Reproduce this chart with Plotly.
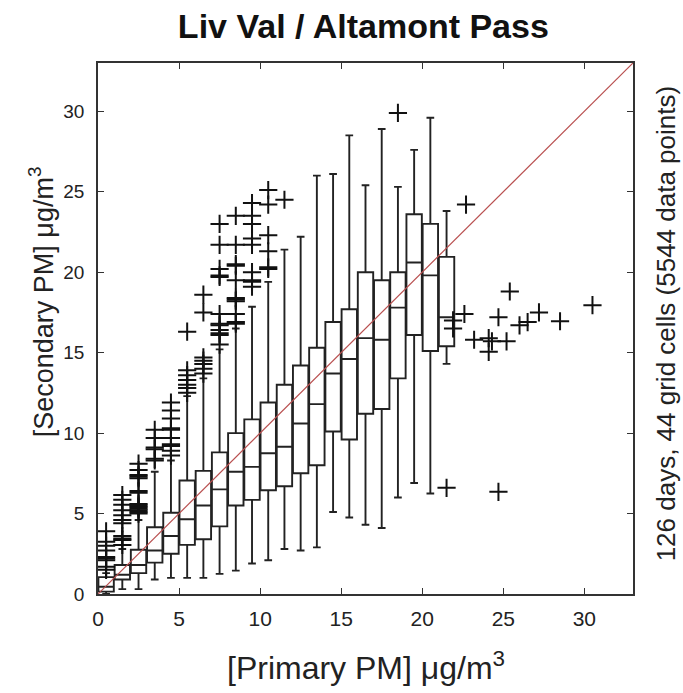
import plotly.graph_objects as go

# ---- data ----
bin_centers = [0.5, 1.5, 2.5, 3.5, 4.5, 5.5, 6.5, 7.5, 8.5, 9.5, 10.5,
               11.5, 12.5, 13.5, 14.5, 15.5, 16.5, 17.5, 18.5, 19.5, 20.5, 21.5]
lower_whisker = [0.0, 0.3, 0.3, 0.9, 1.0, 1.0, 1.0, 1.25, 1.45, 1.9, 2.1,
                 2.8, 2.7, 2.9, 5.1, 4.75, 4.3, 4.1, 6.0, 6.9, 6.25, 14.3]
q1 = [0.15, 0.9, 1.3, 1.95, 2.5, 3.05, 3.4, 4.2, 5.5, 5.85, 6.45,
      6.7, 7.5, 8.0, 10.1, 9.6, 11.2, 11.5, 13.4, 16.1, 15.1, 15.4]
median = [0.45, 1.2, 1.8, 2.7, 3.6, 4.65, 5.5, 6.5, 7.6, 7.9, 8.75,
          9.15, 10.6, 11.8, 13.7, 14.6, 15.9, 15.8, 17.8, 20.6, 19.8, 17.2]
q3 = [1.05, 1.8, 2.75, 4.15, 5.05, 7.05, 7.65, 8.8, 10.0, 10.85, 11.9,
      13.0, 14.2, 15.3, 16.9, 17.7, 20.0, 19.5, 20.0, 23.6, 23.0, 20.95]
upper_whisker = [1.3, 2.8, 4.6, 7.6, 8.3, 12.3, 13.4, 15.2, 16.5, 17.85, 19.4,
                 21.4, 22.2, 26.0, 26.1, 28.5, 25.4, 28.9, 25.3, 27.6, 29.6, 23.8]
outliers = [
    [1.5, 1.7, 2.1, 2.2, 2.3, 2.7, 3.0, 3.25, 3.9],
    [3.05, 3.35, 3.45, 3.6, 4.4, 4.6, 4.9, 5.2, 5.55, 5.85, 6.15],
    [5.0, 5.1, 5.2, 5.3, 5.4, 5.5, 5.6, 6.3, 6.4, 7.2, 7.3, 7.4, 7.7, 8.1],
    [8.3, 8.4, 9.0, 9.1, 9.7, 10.2],
    [8.6, 8.9, 9.2, 9.3, 9.7, 10.2, 10.3, 10.9, 11.4, 11.9],
    [12.5, 12.8, 13.0, 13.3, 13.6, 13.9, 16.3],
    [13.7, 14.0, 14.3, 14.5, 14.7, 17.5, 18.6],
    [15.5, 16.1, 16.2, 16.4, 16.7, 16.8, 17.4, 19.7, 19.8, 20.2, 21.7, 23.0],
    [16.8, 16.9, 17.4, 18.2, 18.3, 18.4, 19.5, 20.4, 20.5, 21.7, 23.5],
    [19.1, 19.4, 19.5, 20.0, 21.7, 22.1, 23.0, 23.5, 24.3],
    [20.2, 20.3, 21.3, 22.3, 24.2, 25.1],
    [24.5],
    [], [], [], [], [], [],
    [29.9],
    [], [],
    [6.6],
]
# individual points beyond the binned range
extra_x = [21.9, 22.6, 21.9, 22.7, 23.2, 24.1, 24.3, 24.1, 25.2, 24.7, 25.4,
           26.0, 26.5, 27.2, 28.5, 30.5, 24.7]
extra_y = [17.0, 17.4, 16.5, 24.2, 15.8, 15.9, 15.7, 15.05, 15.7, 17.2, 18.8,
           16.7, 16.9, 17.5, 16.95, 17.95, 6.35]
diag = [0, 33]

x_ticks = [0, 5, 10, 15, 20, 25, 30]
y_ticks = [0, 5, 10, 15, 20, 25, 30]

FONT = "Liberation Sans, Arial, sans-serif"

out_x, out_y = [], []
for c, vals in zip(bin_centers, outliers):
    for v in vals:
        out_x.append(c)
        out_y.append(v)
out_x += extra_x
out_y += extra_y

fig = go.Figure()

fig.add_trace(go.Scatter(
    x=diag, y=diag, mode="lines",
    line=dict(color="rgb(185,80,80)", width=1.2),
    hoverinfo="skip", showlegend=False,
))

fig.add_trace(go.Box(
    x=bin_centers, q1=q1, median=median, q3=q3,
    lowerfence=lower_whisker, upperfence=upper_whisker,
    width=0.95, whiskerwidth=0.5,
    fillcolor="rgba(0,0,0,0)",
    line=dict(color="#222222", width=1.9),
    boxpoints=False, showlegend=False,
))

fig.add_trace(go.Scatter(
    x=out_x, y=out_y, mode="markers",
    marker=dict(symbol="cross-thin", size=13,
                line=dict(color="#111111", width=2)),
    showlegend=False,
))

axis_common = dict(
    showgrid=False, zeroline=False,
    showline=True, linecolor="#333333", linewidth=1.6,
    mirror="ticks", ticks="inside", ticklen=6, tickwidth=1.4,
    tickcolor="#333333",
)

fig.update_xaxes(range=[0, 33], tickvals=x_ticks, ticktext=[str(t) for t in x_ticks],
                 ticklabelstandoff=5,
                 tickfont=dict(family=FONT, size=21, color="#222222"), **axis_common)
fig.update_yaxes(range=[0, 33], tickvals=y_ticks, ticktext=[str(t) for t in y_ticks],
                 ticklabelstandoff=8,
                 tickfont=dict(family=FONT, size=19, color="#222222"), **axis_common)

fig.update_layout(
    width=683, height=693,
    margin=dict(l=98, r=50, t=63, b=99),
    paper_bgcolor="white", plot_bgcolor="white",
    title=dict(text="<b>Liv Val / Altamont Pass</b>", x=0.532, xanchor="center",
               y=0.962, yanchor="middle",
               font=dict(family=FONT, size=34, color="#111111")),
    annotations=[
        dict(text="[Primary PM] μg/m<sup>3</sup>", xref="paper", yref="paper",
             x=0.5, y=-0.135, xanchor="center", yanchor="middle", showarrow=False,
             font=dict(family=FONT, size=32, color="#222222")),
        dict(text="[Secondary PM] μg/m<sup>3</sup>", xref="paper", yref="paper",
             x=-0.106, y=0.55, xanchor="center", yanchor="middle", showarrow=False,
             textangle=-90,
             font=dict(family=FONT, size=27, color="#222222")),
        dict(text="126 days, 44 grid cells (5544 data points)", xref="paper", yref="paper",
             x=1.062, y=0.51, xanchor="center", yanchor="middle", showarrow=False,
             textangle=-90,
             font=dict(family=FONT, size=26, color="#222222")),
    ],
)

fig.write_html("out.html")
